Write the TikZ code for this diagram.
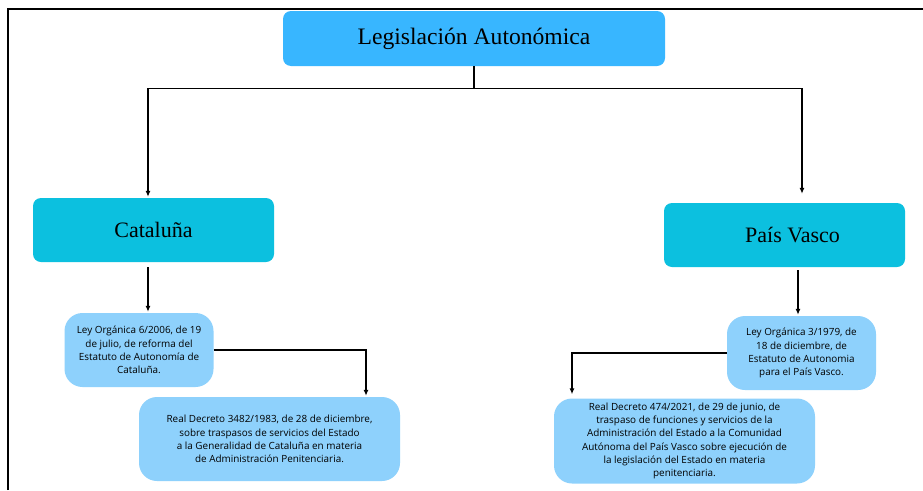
\documentclass[tikz,border=0pt]{standalone}
\usepackage{fontspec}
\setmainfont{Liberation Serif}
\newfontfamily\smallsans{Open Sans}
\usetikzlibrary{arrows.meta}
\definecolor{topblue}{HTML}{38B6FF}
\definecolor{midcyan}{HTML}{0CC0DF}
\definecolor{lightblue}{HTML}{8ED1FC}
\tikzset{
  topbox/.style={fill=topblue, rounded corners=8pt, minimum width=382pt, minimum height=55pt, inner sep=0pt, font=\fontsize{23.6}{26}\selectfont},
  regionbox/.style={fill=midcyan, rounded corners=8pt, minimum width=241pt, minimum height=64pt, inner sep=0pt, font=\fontsize{22}{25}\selectfont},
  lawbox/.style={fill=lightblue, rounded corners=18pt, inner sep=0pt, align=center, font=\smallsans\fontsize{9.9}{13.2}\selectfont},
  conn/.style={line width=1.3pt, black},
  arr/.style={conn, -{Latex[length=6pt,width=5pt]}},
  frameline/.style={line width=2.5pt, black}
}
\begin{document}
\begin{tikzpicture}[x=1pt,y=-1pt]
\useasboundingbox (0,0) rectangle (923,490);
\fill[white] (0,0) rectangle (923,490);
\coordinate (fa) at (8,490);
\coordinate (fb) at (8,9);
\coordinate (fc) at (923,9);
\draw[frameline] (fa) -- (fb) -- (fc);

\node[topbox] (top) at (474,38.5) {Legislación Autonómica};
\node[regionbox] (cat) at (153.5,230) {Cataluña};
\node[regionbox] (pv) at (784.5,235) {\hspace*{16pt}País Vasco};

\node[lawbox, minimum width=149pt, minimum height=74pt] (l1) at (139,350)
  {Ley Orgánica 6/2006, de 19\\de julio, de reforma del\\Estatuto de Autonomía de\\Cataluña.};
\node[lawbox, minimum width=261pt, minimum height=84pt] (r1) at (269.5,439)
  {Real Decreto 3482/1983, de 28 de diciembre,\\sobre traspasos de servicios del Estado\\a la Generalidad de Cataluña en materia\\de Administración Penitenciaria.};
\node[lawbox, minimum width=149pt, minimum height=74pt] (l2) at (801.5,353)
  {Ley Orgánica 3/1979, de\\18 de diciembre, de\\Estatuto de Autonomia\\para el País Vasco.};
\node[lawbox, minimum width=261pt, minimum height=85pt] (r2) at (684.5,441)
  {Real Decreto 474/2021, de 29 de junio, de\\traspaso de funciones y servicios de la\\Administración del Estado a la Comunidad\\Autónoma del País Vasco sobre ejecución de\\la legislación del Estado en materia\\penitenciaria.};

\draw[conn] (top.south) -- ++(0,22) coordinate (j);
\draw[arr, shorten >=1pt] (j) -| ([xshift=-5.5pt]cat.north);
\draw[arr, shorten >=9pt] (j) -| ([xshift=17.5pt]pv.north);
\draw[arr, shorten >=1pt] ([xshift=-5.5pt,yshift=-5pt]cat.south) -- ([xshift=-5.5pt]cat.south |- l1.north);
\draw[arr, shorten >=1pt] (l1.east) -| ([xshift=96.5pt]r1.north);
\draw[arr, shorten >=1pt] ([xshift=13.5pt,yshift=-3pt]pv.south) -- ([xshift=13.5pt]pv.south |- l2.north);
\draw[arr, shorten >=4pt] (l2.west) -| ([xshift=-112.5pt]r2.north);
\end{tikzpicture}
\end{document}
